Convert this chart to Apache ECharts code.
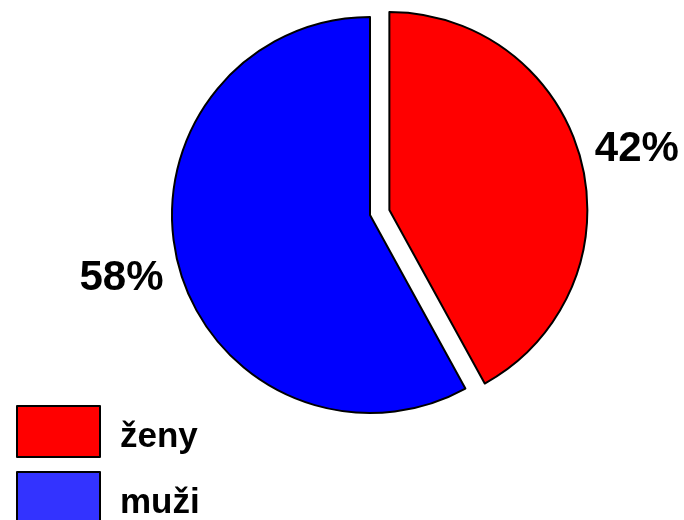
<!DOCTYPE html>
<html>
<head>
<meta charset="utf-8">
<script src="https://cdn.jsdelivr.net/npm/echarts@6/dist/echarts.min.js"></script>
<style>
  html, body { margin: 0; padding: 0; background: #fff; }
  #chart { width: 684px; height: 520px; }
</style>
</head>
<body>
<div id="chart"></div>
<script>
// categories and shares (%)
const categories = ['ženy', 'muži'];
const shares = [42, 58];
const sliceColors = ['#ff0000', '#0000ff'];
const legendColors = ['#ff0000', '#3333ff'];

const fontFamily = 'Liberation Sans, Arial, sans-serif';

let seriesData = [];
categories.forEach((name, i) => {
  seriesData.push({
    name: name,
    value: shares[i],
    selected: i === 0,
    itemStyle: { color: sliceColors[i] },
    labelLine: { length: i === 0 ? 9 : 10, length2: 0 }
  });
});

// one legend per entry so they stack vertically
let legends = categories.map((name, i) => ({
  orient: 'vertical',
  left: 11,
  top: 400 + i * 66,
  icon: 'rect',
  itemWidth: 83,
  itemHeight: 51,
  data: [{ name: name, itemStyle: { color: legendColors[i] } }],
  selectedMode: false,
  itemStyle: { borderColor: '#000', borderWidth: 2 },
  formatter: '{t|{name}}',
  textStyle: {
    rich: {
      t: {
        fontFamily: fontFamily,
        fontWeight: 'bold',
        fontSize: 35,
        color: '#000',
        padding: [11, 0, 0, 15]
      }
    }
  }
}));

let option = {
  backgroundColor: '#fff',
  animation: false,
  legend: legends,
  series: [{
    type: 'pie',
    center: [370, 215],
    radius: 198,
    startAngle: 90,
    clockwise: true,
    selectedMode: 'single',
    selectedOffset: 20,
    data: seriesData,
    itemStyle: { borderColor: '#000', borderWidth: 2 },
    emphasis: { disabled: true },
    label: {
      show: true,
      position: 'outside',
      formatter: '{d}%',
      fontFamily: fontFamily,
      fontWeight: 'bold',
      fontSize: 42,
      color: '#000'
    },
    labelLine: { show: false },
    labelLayout: function (params) {
      return { dy: params.dataIndex === 0 ? -9 : 12 };
    }
  }]
};

let myChart = echarts.init(document.getElementById('chart'));
myChart.setOption(option);
</script>
</body>
</html>
